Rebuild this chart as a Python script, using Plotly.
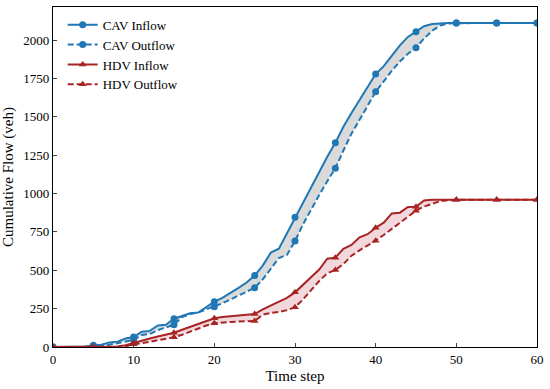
import plotly.graph_objects as go

time_steps = list(range(0, 61))

cav_inflow = [0, 0, 0, 0, 3, 12, 15, 30, 35, 55,
              65, 100, 105, 140, 145, 184, 200, 220, 225, 262,
              295, 320, 350, 385, 420, 465, 530, 615, 640, 740,
              845, 950, 1050, 1150, 1240, 1330, 1435, 1525, 1610, 1700,
              1778, 1830, 1900, 1965, 2020, 2054, 2090, 2104, 2108, 2110,
              2110, 2110, 2110, 2110, 2110, 2110, 2110, 2110, 2110, 2110, 2110]

cav_outflow = [0, 0, 0, 0, 0, 5, 8, 15, 25, 35,
               46, 78, 85, 110, 125, 145, 195, 215, 225, 245,
               262, 285, 310, 335, 360, 386, 440, 510, 580, 600,
               690, 800, 900, 990, 1080, 1164, 1280, 1390, 1480, 1570,
               1663, 1730, 1800, 1860, 1910, 1950, 2010, 2060, 2095, 2108,
               2110, 2110, 2110, 2110, 2110, 2110, 2110, 2110, 2110, 2110, 2110]

hdv_inflow = [0, 0, 0, 0, 0, 0, 0, 0, 3, 12,
              28, 40, 55, 68, 80, 93, 112, 130, 150, 170,
              187, 195, 200, 205, 210, 215, 245, 270, 295, 320,
              356, 405, 455, 505, 575, 582, 640, 665, 715, 735,
              777, 810, 870, 875, 912, 914, 955, 960, 960, 960,
              960, 960, 960, 960, 960, 960, 960, 960, 960, 960, 960]

hdv_outflow = [0, 0, 0, 0, 0, 0, 0, 0, 0, 5,
               18, 25, 35, 45, 55, 63, 80, 100, 120, 140,
               154, 160, 163, 166, 168, 169, 210, 222, 228, 240,
               259, 310, 370, 430, 480, 502, 540, 595, 630, 660,
               693, 730, 770, 810, 850, 888, 915, 935, 950, 956,
               960, 960, 960, 960, 960, 960, 960, 960, 960, 960, 960]

x_ticks = [0, 10, 20, 30, 40, 50, 60]
y_ticks = [0, 250, 500, 750, 1000, 1250, 1500, 1750, 2000]

CAV_COLOR = "#1f77b4"
HDV_COLOR = "#a82424"
FONT = "Liberation Serif, Times New Roman, serif"
DASH = "6px,3px"

fig = go.Figure()

# fills between inflow and outflow
def add_fill(upper, lower, color):
    fig.add_trace(go.Scatter(x=time_steps, y=upper, mode="lines",
                             line=dict(width=0), showlegend=False, hoverinfo="skip"))
    fig.add_trace(go.Scatter(x=time_steps, y=lower, mode="lines",
                             line=dict(width=0), fill="tonexty", fillcolor=color,
                             showlegend=False, hoverinfo="skip"))

add_fill(cav_inflow, cav_outflow, "rgba(150,150,150,0.35)")
add_fill(hdv_inflow, hdv_outflow, "rgba(205,100,120,0.25)")

def add_series(name, yvals, color, dash, symbol, msize):
    fig.add_trace(go.Scatter(x=time_steps, y=yvals, mode="lines",
                             line=dict(color=color, width=2, dash=dash),
                             showlegend=False, legendgroup=name))
    mx = [t for t in time_steps if t % 5 == 0]
    my = [yvals[i] for i, t in enumerate(time_steps) if t % 5 == 0]
    fig.add_trace(go.Scatter(x=mx, y=my, mode="markers",
                             marker=dict(color=color, size=msize, symbol=symbol),
                             showlegend=False, legendgroup=name))
    fig.add_trace(go.Scatter(x=[None], y=[None], mode="lines+markers", name=name,
                             line=dict(color=color, width=2, dash=dash),
                             marker=dict(color=color, size=msize, symbol=symbol),
                             legendgroup=name))

add_series("CAV Inflow", cav_inflow, CAV_COLOR, "solid", "circle", 7)
add_series("CAV Outflow", cav_outflow, CAV_COLOR, DASH, "circle", 7)
add_series("HDV Inflow", hdv_inflow, HDV_COLOR, "solid", "triangle-up", 7)
add_series("HDV Outflow", hdv_outflow, HDV_COLOR, DASH, "triangle-up", 7)

fig.update_layout(
    width=550, height=389,
    margin=dict(l=53, r=9, t=6, b=42),
    paper_bgcolor="white", plot_bgcolor="white",
    font=dict(family=FONT, size=13, color="black"),
    legend=dict(x=0.02, y=0.992, xanchor="left", yanchor="top",
                bgcolor="rgba(255,255,255,0)", font=dict(size=13, family=FONT),
                tracegroupgap=0, itemwidth=30),
    showlegend=True,
)
fig.update_xaxes(range=[0, 60], tickvals=x_ticks, ticks="inside", ticklen=4,
                 showline=True, linecolor="black", linewidth=1.3, mirror=True,
                 showgrid=False, zeroline=False,
                 title=dict(text="Time step", font=dict(size=15, family=FONT), standoff=4),
                 tickfont=dict(size=13, family=FONT))
fig.update_yaxes(range=[0, 2215], tickvals=y_ticks, ticks="inside", ticklen=4,
                 showline=True, linecolor="black", linewidth=1.3, mirror=True,
                 showgrid=False, zeroline=False,
                 title=dict(text="Cumulative Flow (veh)", font=dict(size=15, family=FONT), standoff=6),
                 tickfont=dict(size=13, family=FONT))

fig.write_html("out.html", config={"displayModeBar": False},
               post_script="document.body.style.margin='0';document.body.style.padding='0';")
